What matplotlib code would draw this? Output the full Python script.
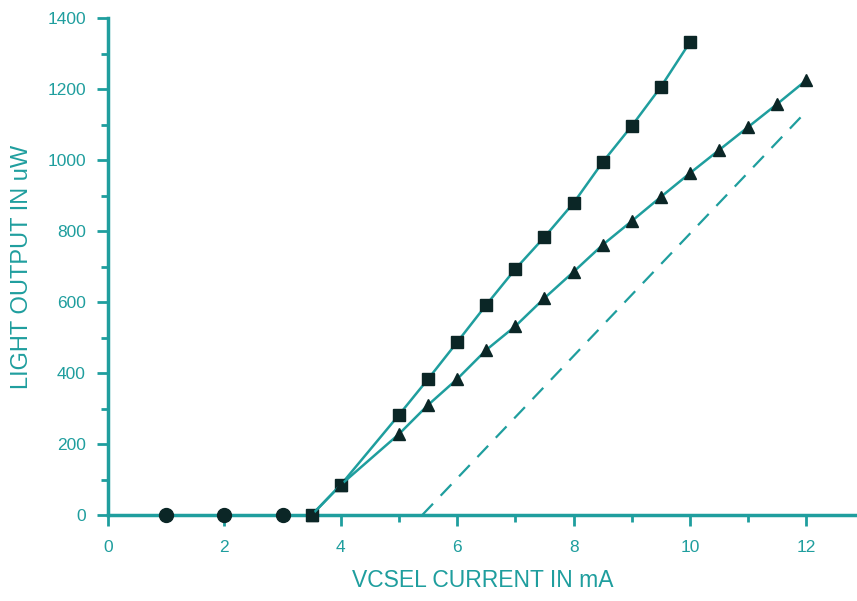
import matplotlib
matplotlib.use("Agg")
import matplotlib.pyplot as plt
from matplotlib.ticker import MultipleLocator
from matplotlib import font_manager

# ---- data ----
low_x = [1.0, 2.0, 3.0]
low_y = [0, 0, 0]

sq_x = [3.5, 4.0, 5.0, 5.5, 6.0, 6.5, 7.0, 7.5, 8.0, 8.5, 9.0, 9.5, 10.0]
sq_y = [0, 85, 282, 383, 487, 592, 693, 783, 879, 994, 1096, 1206, 1332]

tri_x = [3.5, 4.0, 5.0, 5.5, 6.0, 6.5, 7.0, 7.5, 8.0, 8.5, 9.0, 9.5, 10.0, 10.5, 11.0, 11.5, 12.0]
tri_y = [0, 85, 228, 310, 383, 465, 532, 611, 685, 761, 828, 896, 963, 1028, 1093, 1158, 1225]

dash_x = [5.4, 11.9]
dash_y = [0, 1120]

x_ticks = [0, 2, 4, 6, 8, 10, 12]
y_ticks = [0, 200, 400, 600, 800, 1000, 1200, 1400]

TEAL = "#1f9e9e"
DARK = "#0b2626"

names = {f.name for f in font_manager.fontManager.ttflist}
fam = "Liberation Sans Narrow" if "Liberation Sans Narrow" in names else "Liberation Sans"
plt.rcParams["font.family"] = [fam, "DejaVu Sans"]

fig = plt.figure(figsize=(8.57, 6.01), dpi=100)
ax = fig.add_axes([108 / 857, 86 / 601, 1 - 108 / 857, (515 - 18) / 601])

ax.plot(sq_x, sq_y, color=TEAL, lw=1.8, marker="s", ms=8,
        mfc=DARK, mec=DARK, clip_on=False, zorder=3)
ax.plot(tri_x, tri_y, color=TEAL, lw=1.8, marker="^", ms=8,
        mfc=DARK, mec=DARK, clip_on=False, zorder=3)
ax.plot(low_x, low_y, ls="none", marker="o", ms=10,
        mfc=DARK, mec=DARK, clip_on=False, zorder=4)
ax.plot(dash_x, dash_y, color=TEAL, lw=1.6, ls=(0, (7, 5)), zorder=2)

ax.set_xlim(0, 12.87)
ax.set_ylim(0, 1400)
ax.set_xticks(x_ticks)
ax.set_yticks(y_ticks)
ax.xaxis.set_minor_locator(MultipleLocator(1))
ax.yaxis.set_minor_locator(MultipleLocator(100))

for s in ["top", "right"]:
    ax.spines[s].set_visible(False)
for s in ["left", "bottom"]:
    ax.spines[s].set_color(TEAL)
    ax.spines[s].set_linewidth(2.5)

ax.tick_params(axis="both", which="major", length=8, width=2, color=TEAL,
               labelcolor=TEAL, labelsize=12.5, direction="out")
ax.tick_params(axis="both", which="minor", length=5, width=2, color=TEAL,
               direction="out")
ax.tick_params(axis="x", pad=10)
ax.tick_params(axis="y", pad=8)

ax.set_xlabel("VCSEL CURRENT IN mA", color=TEAL, fontsize=16.5, labelpad=10)
ax.set_ylabel("LIGHT OUTPUT IN uW", color=TEAL, fontsize=17, labelpad=10)

fig.savefig("out.png", dpi=100)
